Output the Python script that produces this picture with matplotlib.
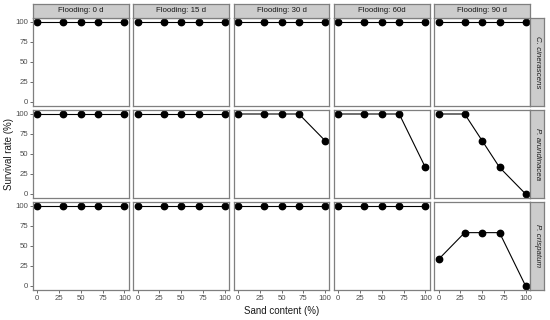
import matplotlib
matplotlib.use("Agg")
import matplotlib.pyplot as plt

plt.rcParams['font.family'] = ['Liberation Sans', 'DejaVu Sans']

# data
sand = [0, 30, 50, 70, 100]
flooding = ["Flooding: 0 d", "Flooding: 15 d", "Flooding: 30 d",
            "Flooding: 60d", "Flooding: 90 d"]
species = ["C. cinerascens", "P. arundinacea", "P. crispatum"]

c_cinerascens = [
    [100, 100, 100, 100, 100],
    [100, 100, 100, 100, 100],
    [100, 100, 100, 100, 100],
    [100, 100, 100, 100, 100],
    [100, 100, 100, 100, 100],
]
p_arundinacea = [
    [100, 100, 100, 100, 100],
    [100, 100, 100, 100, 100],
    [100, 100, 100, 100, 66.7],
    [100, 100, 100, 100, 33.3],
    [100, 100, 66.7, 33.3, 0],
]
p_crispatum = [
    [100, 100, 100, 100, 100],
    [100, 100, 100, 100, 100],
    [100, 100, 100, 100, 100],
    [100, 100, 100, 100, 100],
    [33.3, 66.7, 66.7, 66.7, 0],
]
survival = [c_cinerascens, p_arundinacea, p_crispatum]

W, H = 550, 320
fig = plt.figure(figsize=(W / 100, H / 100), dpi=100)

border = "#7f7f7f"
strip_fill = "#cccccc"
txt = "#4d4d4d"

col_left = [33, 133.3, 233.6, 333.9, 434.2]
pw = 95.8
row_top = [18, 110, 202]
ph = 88
strip_h = 14
strip_w = 14


def px(l, t, w, h):
    return [l / W, 1 - (t + h) / H, w / W, h / H]


for r in range(3):
    for c in range(5):
        ax = fig.add_axes(px(col_left[c], row_top[r], pw, ph))
        ax.plot(sand, survival[r][c], "-", color="black", lw=0.8,
                marker="o", ms=4.6, mfc="black", mec="black")
        ax.set_xlim(-5, 105)
        ax.set_ylim(-5, 105)
        ax.set_yticks([0, 25, 50, 75, 100])
        ax.set_xticks([0, 25, 50, 75, 100])
        for s in ax.spines.values():
            s.set_color(border)
            s.set_linewidth(0.9)
        ax.tick_params(length=2, width=0.5, color="#333333",
                       labelsize=5.6, labelcolor=txt, pad=1.5)
        if c != 0:
            ax.set_yticklabels([])
            ax.tick_params(axis="y", length=0)
        if r != 2:
            ax.set_xticklabels([])
            ax.tick_params(axis="x", length=0)

# top strips
for c in range(5):
    sax = fig.add_axes(px(col_left[c], row_top[0] - strip_h, pw, strip_h))
    sax.set_facecolor(strip_fill)
    sax.set_xticks([])
    sax.set_yticks([])
    for s in sax.spines.values():
        s.set_color(border)
        s.set_linewidth(0.9)
    sax.text(0.5, 0.5, flooding[c], ha="center", va="center",
             fontsize=5.7, color="#1a1a1a", transform=sax.transAxes)

# right strips
for r in range(3):
    sax = fig.add_axes(px(col_left[4] + pw, row_top[r], strip_w, ph))
    sax.set_facecolor(strip_fill)
    sax.set_xticks([])
    sax.set_yticks([])
    for s in sax.spines.values():
        s.set_color(border)
        s.set_linewidth(0.9)
    sax.text(0.5, 0.5, species[r], ha="center", va="center", rotation=-90,
             fontsize=5.7, style="italic", color="#1a1a1a",
             transform=sax.transAxes)

fig.text((col_left[0] + col_left[4] + pw) / 2 / W, 1 - 311 / H,
         "Sand content (%)", ha="center", va="center", fontsize=7,
         color="#1a1a1a")
fig.text(9 / W, 1 - (row_top[0] + row_top[2] + ph) / 2 / H,
         "Survival rate (%)", ha="center", va="center", rotation=90,
         fontsize=7, color="#1a1a1a")

fig.savefig("out.png", dpi=100)
